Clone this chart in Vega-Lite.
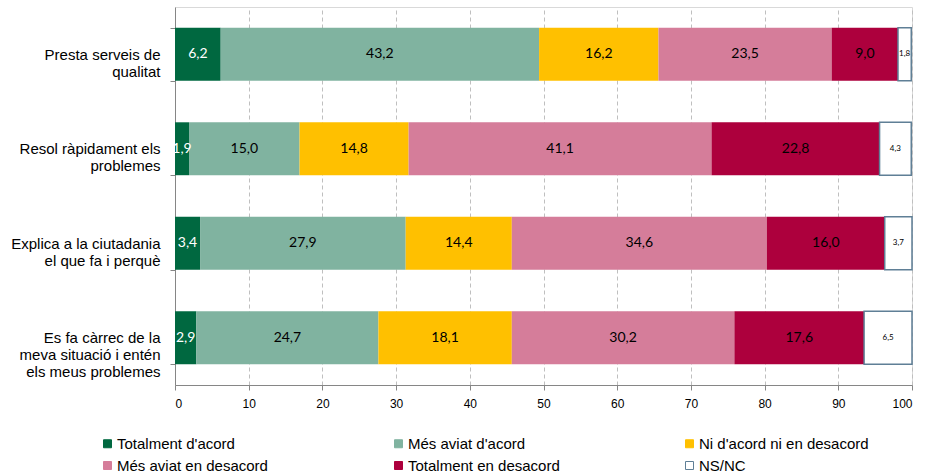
{
  "$schema": "https://vega.github.io/schema/vega-lite/v6.json",
  "autosize": {"type": "none"},
  "padding": {"left": 175, "top": 7, "right": 14, "bottom": 90},
  "width": 737,
  "height": 378,
  "config": {
    "view": {"stroke": "#d9d9d9", "strokeWidth": 1},
    "font": "Liberation Sans"
  },
  "data": {
    "values": [
      {"q": "Presta serveis de|qualitat", "cat": "Totalment d'acord", "ord": 1, "value": 6.2},
      {"q": "Presta serveis de|qualitat", "cat": "Més aviat d'acord", "ord": 2, "value": 43.2},
      {"q": "Presta serveis de|qualitat", "cat": "Ni d'acord ni en desacord", "ord": 3, "value": 16.2},
      {"q": "Presta serveis de|qualitat", "cat": "Més aviat en desacord", "ord": 4, "value": 23.5},
      {"q": "Presta serveis de|qualitat", "cat": "Totalment en desacord", "ord": 5, "value": 9.0},
      {"q": "Presta serveis de|qualitat", "cat": "NS/NC", "ord": 6, "value": 1.8},
      {"q": "Resol ràpidament els|problemes", "cat": "Totalment d'acord", "ord": 1, "value": 1.9},
      {"q": "Resol ràpidament els|problemes", "cat": "Més aviat d'acord", "ord": 2, "value": 15.0},
      {"q": "Resol ràpidament els|problemes", "cat": "Ni d'acord ni en desacord", "ord": 3, "value": 14.8},
      {"q": "Resol ràpidament els|problemes", "cat": "Més aviat en desacord", "ord": 4, "value": 41.1},
      {"q": "Resol ràpidament els|problemes", "cat": "Totalment en desacord", "ord": 5, "value": 22.8},
      {"q": "Resol ràpidament els|problemes", "cat": "NS/NC", "ord": 6, "value": 4.3},
      {"q": "Explica a la ciutadania|el que fa i perquè", "cat": "Totalment d'acord", "ord": 1, "value": 3.4},
      {"q": "Explica a la ciutadania|el que fa i perquè", "cat": "Més aviat d'acord", "ord": 2, "value": 27.9},
      {"q": "Explica a la ciutadania|el que fa i perquè", "cat": "Ni d'acord ni en desacord", "ord": 3, "value": 14.4},
      {"q": "Explica a la ciutadania|el que fa i perquè", "cat": "Més aviat en desacord", "ord": 4, "value": 34.6},
      {"q": "Explica a la ciutadania|el que fa i perquè", "cat": "Totalment en desacord", "ord": 5, "value": 16.0},
      {"q": "Explica a la ciutadania|el que fa i perquè", "cat": "NS/NC", "ord": 6, "value": 3.7},
      {"q": "Es fa càrrec de la|meva situació i entén|els meus problemes", "cat": "Totalment d'acord", "ord": 1, "value": 2.9},
      {"q": "Es fa càrrec de la|meva situació i entén|els meus problemes", "cat": "Més aviat d'acord", "ord": 2, "value": 24.7},
      {"q": "Es fa càrrec de la|meva situació i entén|els meus problemes", "cat": "Ni d'acord ni en desacord", "ord": 3, "value": 18.1},
      {"q": "Es fa càrrec de la|meva situació i entén|els meus problemes", "cat": "Més aviat en desacord", "ord": 4, "value": 30.2},
      {"q": "Es fa càrrec de la|meva situació i entén|els meus problemes", "cat": "Totalment en desacord", "ord": 5, "value": 17.6},
      {"q": "Es fa càrrec de la|meva situació i entén|els meus problemes", "cat": "NS/NC", "ord": 6, "value": 6.5}
    ]
  },
  "encoding": {
    "y": {
      "field": "q", "type": "nominal",
      "sort": ["Presta serveis de|qualitat", "Resol ràpidament els|problemes", "Explica a la ciutadania|el que fa i perquè", "Es fa càrrec de la|meva situació i entén|els meus problemes"],
      "scale": {"paddingInner": 0.44, "paddingOuter": 0.22},
      "axis": {
        "title": null,
        "labelExpr": "split(datum.label, '|')",
        "labelFont": "Liberation Sans",
        "labelFontSize": 15,
        "labelColor": "#000000",
        "labelLineHeight": 17,
        "labelPadding": 10,
        "tickSize": 5,
        "tickBand": "extent",
        "tickColor": "#868686",
        "domainColor": "#868686",
        "grid": false
      }
    }
  },
  "layer": [
    {
      "mark": {"type": "bar"},
      "encoding": {
        "x": {
          "field": "value", "type": "quantitative", "stack": "zero",
          "scale": {"domain": [0, 100], "nice": false},
          "axis": {
            "title": null,
            "values": [0, 10, 20, 30, 40, 50, 60, 70, 80, 90, 100],
            "labelFontSize": 12,
            "labelColor": "#000000",
            "labelPadding": 8,
            "tickSize": 5,
            "tickColor": "#868686",
            "domainColor": "#868686",
            "grid": true,
            "gridColor": "#bfbfbf",
            "gridDash": [4, 3],
            "gridWidth": 1
          }
        },
        "order": {"field": "ord", "type": "quantitative"},
        "color": {
          "field": "cat", "type": "nominal",
          "scale": {
            "domain": ["Totalment d'acord", "Més aviat d'acord", "Ni d'acord ni en desacord", "Més aviat en desacord", "Totalment en desacord", "NS/NC"],
            "range": ["#006840", "#80b3a0", "#ffc000", "#d57d9a", "#ad003d", "#ffffff"]
          },
          "legend": {
            "title": null,
            "orient": "none",
            "legendX": -75,
            "legendY": 429,
            "direction": "horizontal",
            "columns": 3,
            "gridAlign": "all",
            "columnPadding": 104,
            "rowPadding": 6,
            "symbolType": "square",
            "symbolSize": 64,
            "symbolStrokeWidth": 1,
            "labelFontSize": 15,
            "labelColor": "#000000",
            "labelOffset": 2,
            "labelLimit": 300
          }
        },
        "stroke": {
          "field": "cat", "type": "nominal",
          "scale": {
            "domain": ["Totalment d'acord", "Més aviat d'acord", "Ni d'acord ni en desacord", "Més aviat en desacord", "Totalment en desacord", "NS/NC"],
            "range": ["#006840", "#80b3a0", "#ffc000", "#d57d9a", "#ad003d", "#5f7f96"]
          },
          "legend": null
        },
        "strokeWidth": {
          "condition": {"test": "datum.cat === 'NS/NC'", "value": 1.5},
          "value": 0
        }
      }
    },
    {
      "transform": [
        {"stack": "value", "groupby": ["q"], "sort": [{"field": "ord"}], "as": ["v0", "v1"]},
        {"calculate": "(datum.v0 + datum.v1) / 2", "as": "mid"},
        {"calculate": "replace(format(datum.value, '.1f'), '.', ',')", "as": "lab"}
      ],
      "mark": {"type": "text", "font": "Lato", "baseline": "middle", "align": "center"},
      "encoding": {
        "x": {"field": "mid", "type": "quantitative"},
        "text": {"field": "lab"},
        "color": {
          "condition": {"test": "datum.cat === 'Totalment d\\'acord'", "value": "#ffffff"},
          "value": "#000000"
        },
        "size": {
          "condition": {"test": "datum.cat === 'NS/NC'", "value": 8},
          "value": 14
        }
      }
    }
  ]
}
